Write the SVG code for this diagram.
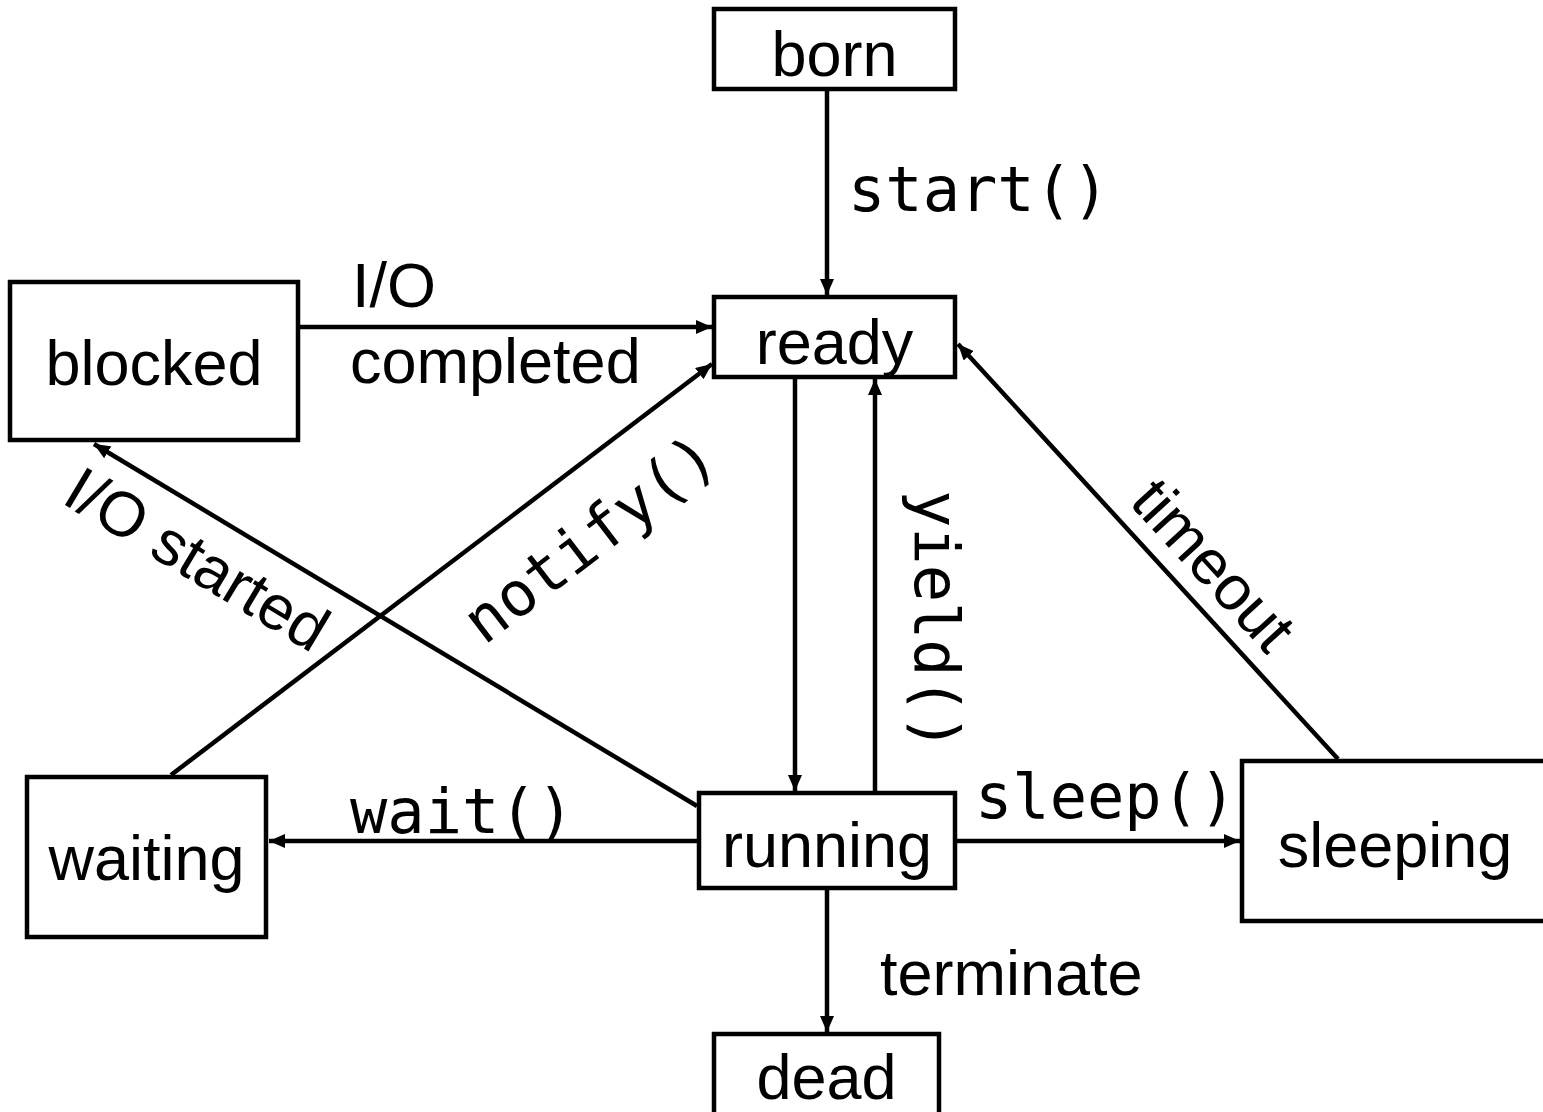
<svg xmlns="http://www.w3.org/2000/svg" width="1543" height="1112" viewBox="0 0 1543 1112">
  <style>
    .box { fill: #fff; stroke: #000; stroke-width: 4.5; }
    .state { font-family: "Liberation Sans", Arial, sans-serif; font-size: 63px; fill: #000; text-anchor: middle; }
    .lbl { font-family: "Liberation Sans", Arial, sans-serif; font-size: 63px; fill: #000; }
    .code { font-family: "DejaVu Sans Mono", monospace; font-size: 62px; fill: #000; }
    .edge { stroke: #000; stroke-width: 4.5; fill: none; marker-end: url(#arrow); }
  </style>
  <defs>
    <marker id="arrow" markerUnits="userSpaceOnUse" markerWidth="17" markerHeight="14" refX="16" refY="7" orient="auto">
      <path d="M0,0 L16,7 L0,14 Z" fill="#000"/>
    </marker>
  </defs>
  <rect width="1543" height="1112" fill="#fff"/>

  <!-- transitions -->
  <g id="edges">
    <line class="edge" x1="827" y1="89" x2="827" y2="295"/>
    <line class="edge" x1="298" y1="327" x2="712" y2="327"/>
    <line class="edge" x1="171" y1="775" x2="712" y2="364"/>
    <line class="edge" x1="697" y1="806" x2="94" y2="444"/>
    <line class="edge" x1="1338" y1="759" x2="958" y2="344"/>
    <line class="edge" x1="795" y1="377" x2="795" y2="791"/>
    <line class="edge" x1="875" y1="793" x2="875" y2="379"/>
    <line class="edge" x1="698" y1="841" x2="269" y2="841"/>
    <line class="edge" x1="955" y1="841" x2="1240" y2="841"/>
    <line class="edge" x1="827" y1="889" x2="827" y2="1032"/>
  </g>

  <!-- transition labels -->
  <g id="edge-labels">
    <text class="code" x="848" y="211">start()</text>
    <text class="lbl" x="352" y="307">I/O</text>
    <text class="lbl" x="350" y="383">completed</text>
    <text class="code" transform="translate(484,646) rotate(-37.4)">notify()</text>
    <text class="lbl" transform="translate(60,502) rotate(31)">I/O started</text>
    <text class="code" transform="translate(915,490) rotate(90)">yield()</text>
    <text class="lbl" transform="translate(1128,503) rotate(47.6)">timeout</text>
    <text class="code" x="350" y="833">wait()</text>
    <text class="code" x="975" y="818">sleep()</text>
    <text class="lbl" x="880" y="995">terminate</text>
  </g>

  <!-- states -->
  <g id="born">
    <rect class="box" x="714" y="9" width="241" height="80"/>
    <text class="state" x="834.5" y="76">born</text>
  </g>
  <g id="ready">
    <rect class="box" x="714" y="297" width="241" height="80"/>
    <text class="state" x="834.5" y="364">ready</text>
  </g>
  <g id="blocked">
    <rect class="box" x="10" y="282" width="288" height="158"/>
    <text class="state" x="154" y="385">blocked</text>
  </g>
  <g id="waiting">
    <rect class="box" x="27" y="777" width="239" height="160"/>
    <text class="state" x="146.5" y="880">waiting</text>
  </g>
  <g id="running">
    <rect class="box" x="699" y="793" width="256" height="95"/>
    <text class="state" x="827" y="867">running</text>
  </g>
  <g id="sleeping">
    <rect class="box" x="1242" y="761" width="320" height="160"/>
    <text class="state" x="1395" y="867">sleeping</text>
  </g>
  <g id="dead">
    <rect class="box" x="714" y="1034" width="225" height="90"/>
    <text class="state" x="826.5" y="1099">dead</text>
  </g>
</svg>
